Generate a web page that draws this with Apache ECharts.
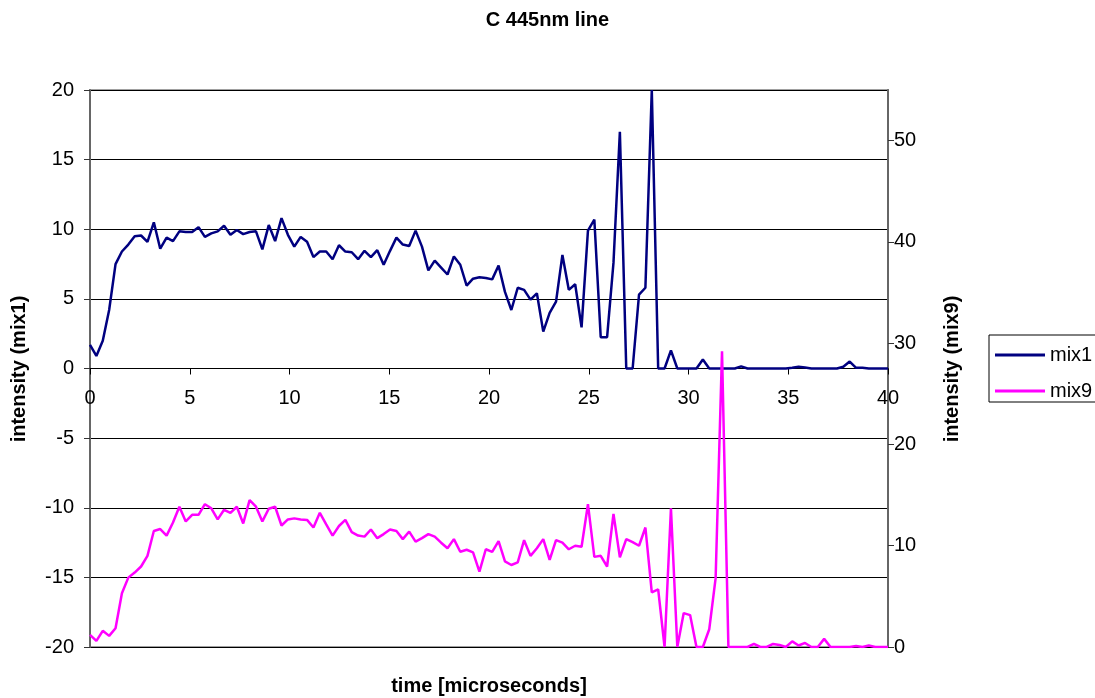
<!DOCTYPE html>
<html>
<head>
<meta charset="utf-8">
<script src="https://cdn.jsdelivr.net/npm/echarts@6/dist/echarts.min.js"></script>
<style>
html,body{margin:0;padding:0;background:#fff;}
#chart{width:1095px;height:698px;}
</style>
</head>
<body>
<div id="chart"></div>
<script>
// sampling step of the time grid (microseconds)
const sampleStep = 0.32;

const mix1 = [
  1.7, 0.9, 2.0, 4.2, 7.5, 8.4, 8.9, 9.5, 9.55, 9.1,
  10.5, 8.6, 9.4, 9.15, 9.85, 9.8, 9.8, 10.15, 9.45, 9.7,
  9.85, 10.25, 9.6, 9.95, 9.65, 9.8, 9.85, 8.55, 10.3, 9.15,
  10.8, 9.6, 8.75, 9.45, 9.1, 8.0, 8.4, 8.4, 7.85, 8.85,
  8.4, 8.35, 7.85, 8.45, 8.0, 8.5, 7.45, 8.45, 9.4, 8.9,
  8.8, 9.9, 8.75, 7.05, 7.75, 7.25, 6.75, 8.05, 7.45, 5.95,
  6.45, 6.55, 6.5, 6.4, 7.4, 5.5, 4.2, 5.8, 5.65, 4.95,
  5.4, 2.65, 4.0, 4.8, 8.15, 5.65, 6.05, 2.95, 9.9, 10.7,
  2.25, 2.25, 7.6, 17.0, 0, 0, 5.3, 5.8, 20, 0,
  0, 1.3, 0, 0, 0, 0, 0.65, 0, 0, 0,
  0, 0, 0.15, 0, 0, 0, 0, 0, 0, 0,
  0.05, 0.12, 0.07, 0, 0, 0, 0, 0, 0.12, 0.5,
  0.05, 0.05, 0, 0, 0, 0
];

const mix9 = [
  1.2, 0.6, 1.6, 1.1, 1.85, 5.3, 6.85, 7.35, 7.95, 9.0,
  11.45, 11.65, 11.0, 12.3, 13.85, 12.4, 13.05, 13.05, 14.1, 13.7,
  12.6, 13.55, 13.25, 13.85, 12.2, 14.5, 13.85, 12.4, 13.65, 13.85,
  12.0, 12.6, 12.7, 12.6, 12.55, 11.8, 13.25, 12.1, 11.0, 11.95,
  12.55, 11.35, 11.0, 10.9, 11.6, 10.75, 11.15, 11.6, 11.45, 10.65,
  11.4, 10.4, 10.75, 11.15, 10.9, 10.3, 9.75, 10.65, 9.4, 9.6,
  9.35, 7.45, 9.65, 9.4, 10.45, 8.45, 8.1, 8.35, 10.55, 9.0,
  9.75, 10.65, 8.6, 10.55, 10.3, 9.65, 10.0, 9.9, 14.1, 8.9,
  9.0, 7.95, 13.15, 8.85, 10.65, 10.35, 10.0, 11.8, 5.4, 5.7,
  0, 13.7, 0, 3.35, 3.15, 0, 0, 1.75, 6.8, 29.2,
  0, 0, 0, 0, 0.3, 0, 0, 0.3, 0.2, 0,
  0.55, 0.15, 0.4, 0, 0, 0.8, 0, 0, 0, 0,
  0.1, 0, 0.15, 0, 0, 0
];

const rightTicks = [0, 10, 20, 30, 40, 50];

const seriesNames = ['mix1', 'mix9'];
const titleText = 'C 445nm line';
const xName = 'time [microseconds]';
const yLeftName = 'intensity (mix1)';
const yRightName = 'intensity (mix9)';

const FONT = 'Arial, "Liberation Sans", sans-serif';

const toPairs = arr => arr.map((v, i) => [+(i * sampleStep).toFixed(2), v]);

const chart = echarts.init(document.getElementById('chart'), null, {renderer: 'canvas'});

const GRID = {left: 90, top: 90, width: 798, height: 557};

chart.setOption({
  animation: false,
  backgroundColor: '#ffffff',
  title: {
    text: titleText,
    left: 'center',
    top: 5,
    textStyle: {fontFamily: FONT, fontSize: 20, fontWeight: 'bold', color: '#000'}
  },
  grid: {
    left: GRID.left, top: GRID.top, width: GRID.width, height: GRID.height,
    show: true, borderColor: '#a0a0a0', borderWidth: 2, backgroundColor: 'transparent'
  },
  legend: {
    orient: 'vertical',
    left: 989, top: 335,
    padding: [9, 8, 0, 6],
    itemWidth: 50, itemHeight: 3, itemGap: 14,
    icon: 'rect',
    borderColor: '#000', borderWidth: 1,
    textStyle: {fontFamily: FONT, fontSize: 20, color: '#000', lineHeight: 22},
    data: seriesNames
  },
  xAxis: {
    type: 'value', min: 0, max: 40, interval: 5, position: 'bottom',
    // place the axis at the zero of the left axis (middle of the grid)
    offset: -GRID.height / 2,
    axisLine: {onZero: false, lineStyle: {color: '#000', width: 1}},
    axisTick: {show: true, inside: false, length: 6, lineStyle: {color: '#000'}},
    axisLabel: {fontFamily: FONT, fontSize: 20, color: '#000', margin: 20},
    splitLine: {show: false}
  },
  yAxis: [
    {
      type: 'value', min: -20, max: 20, interval: 5, position: 'left',
      axisLine: {show: true, onZero: false, lineStyle: {color: '#666', width: 2}},
      axisTick: {show: true, inside: false, length: 6, lineStyle: {color: '#333'}},
      axisLabel: {fontFamily: FONT, fontSize: 20, color: '#000', margin: 16},
      splitLine: {show: true, lineStyle: {color: '#000', width: 1}}
    },
    {
      type: 'value', min: 0, max: 55, interval: 10, position: 'right',
      axisLine: {show: true, onZero: false, lineStyle: {color: '#666', width: 2}},
      axisTick: {show: true, inside: false, length: 6, customValues: rightTicks, lineStyle: {color: '#333'}},
      axisLabel: {fontFamily: FONT, fontSize: 20, color: '#000', margin: 6, customValues: rightTicks},
      splitLine: {show: false}
    }
  ],
  series: [
    {
      name: seriesNames[0], type: 'line', yAxisIndex: 0,
      data: toPairs(mix1), symbol: 'none', showSymbol: false, clip: true,
      lineStyle: {color: '#000080', width: 2.5}, itemStyle: {color: '#000080'}
    },
    {
      name: seriesNames[1], type: 'line', yAxisIndex: 1,
      data: toPairs(mix9), symbol: 'none', showSymbol: false, clip: true,
      lineStyle: {color: '#ff00ff', width: 2.5}, itemStyle: {color: '#ff00ff'}
    }
  ],
  graphic: [
    {
      type: 'text', x: 489, y: 686,
      style: {text: xName, fontFamily: FONT, fontSize: 20, fontWeight: 'bold', fill: '#000',
        textAlign: 'center', textVerticalAlign: 'middle'}
    },
    {
      type: 'text', x: 19, y: 369, rotation: Math.PI / 2,
      style: {text: yLeftName, fontFamily: FONT, fontSize: 20, fontWeight: 'bold', fill: '#000',
        textAlign: 'center', textVerticalAlign: 'middle'}
    },
    {
      type: 'text', x: 952, y: 369, rotation: Math.PI / 2,
      style: {text: yRightName, fontFamily: FONT, fontSize: 20, fontWeight: 'bold', fill: '#000',
        textAlign: 'center', textVerticalAlign: 'middle'}
    }
  ]
});
</script>
</body>
</html>
